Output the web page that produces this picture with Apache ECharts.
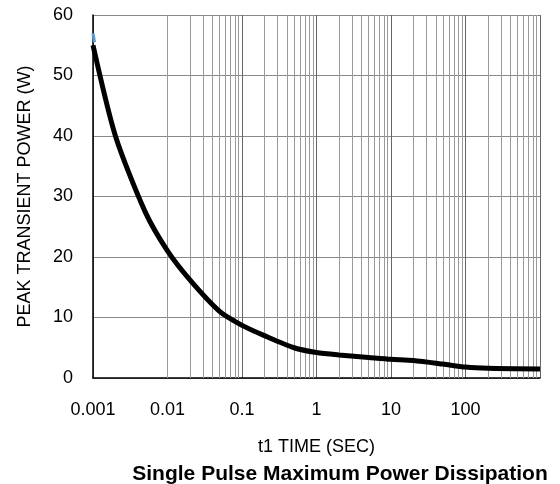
<!DOCTYPE html>
<html>
<head>
<meta charset="utf-8">
<script src="https://cdn.jsdelivr.net/npm/echarts@6/dist/echarts.min.js"></script>
<style>html,body{margin:0;padding:0;background:#fff}#c{width:560px;height:484px}</style>
</head>
<body>
<div id="c"></div>
<script>
var timeSec = [0.001, 0.002, 0.005, 0.01, 0.02, 0.05, 0.1, 0.2, 0.5, 1, 2, 5, 10, 20, 50, 100, 200, 1000];
var peakPower = [55, 40, 27.5, 21, 16.2, 11, 8.7, 7, 5, 4.2, 3.8, 3.4, 3.1, 2.9, 2.3, 1.8, 1.6, 1.5];
var blueTime = [0.001, 0.00105];
var bluePower = [57, 55.5];
var xTickLabels = ['0.001', '0.01', '0.1', '1', '10', '100', ''];
var yTickLabels = ['0', '10', '20', '30', '40', '50', '60'];
var decades = [0.001, 0.01, 0.1, 1, 10, 100];
var mults = [2, 3, 4, 5, 6, 7, 8, 9];

var minorLines = [];
decades.forEach(function (d) {
  mults.forEach(function (m) { minorLines.push({ xAxis: d * m }); });
});

var font = 'Liberation Sans, Arial, sans-serif';
var chart = echarts.init(document.getElementById('c'), null, { renderer: 'canvas' });
chart.setOption({
  animation: false,
  title: {
    text: 'Single Pulse Maximum Power Dissipation',
    left: 335, textAlign: 'center', top: 459,
    textStyle: { fontFamily: font, fontSize: 21, fontWeight: 'bold', color: '#000' }
  },
  grid: { left: 93, right: 20, top: 15, bottom: 106 },
  xAxis: {
    type: 'log', logBase: 10, min: 0.001, max: 1000,
    name: 't1 TIME (SEC)', nameLocation: 'middle', nameGap: 60,
    nameTextStyle: { fontFamily: font, fontSize: 18, color: '#000' },
    axisLine: { show: true, onZero: false, lineStyle: { color: '#000', width: 1.5 } },
    axisTick: { show: false },
    axisLabel: {
      margin: 23, fontFamily: font, fontSize: 18, color: '#000',
      formatter: function (v, i) { return xTickLabels[i] !== undefined ? xTickLabels[i] : ''; }
    },
    splitLine: { show: true, lineStyle: { color: '#666', width: 1 } }
  },
  yAxis: {
    type: 'value', min: 0, max: 60, interval: 10,
    name: 'PEAK TRANSIENT POWER (W)', nameLocation: 'middle', nameGap: 59,
    nameTextStyle: { fontFamily: font, fontSize: 18, color: '#000' },
    axisLine: { show: true, lineStyle: { color: '#000', width: 1.5 } },
    axisTick: { show: false },
    axisLabel: {
      margin: 20, fontFamily: font, fontSize: 18, color: '#000',
      formatter: function (v, i) { return yTickLabels[i]; }
    },
    splitLine: { show: true, lineStyle: { color: '#888', width: 1 } }
  },
  series: [
    {
      type: 'line', data: timeSec.map(function (t, i) { return [t, peakPower[i]]; }),
      smooth: 0.25, showSymbol: false, symbol: 'none',
      lineStyle: { color: '#000', width: 5 }, z: 5,
      markLine: {
        silent: true, symbol: 'none', label: { show: false },
        lineStyle: { color: '#999', width: 1, type: 'solid' },
        data: minorLines, z: 1, animation: false
      }
    },
    {
      type: 'line', data: blueTime.map(function (t, i) { return [t, bluePower[i]]; }),
      showSymbol: false, symbol: 'none',
      lineStyle: { color: '#5b9bd5', width: 3 }, z: 4
    }
  ]
});
</script>
</body>
</html>
